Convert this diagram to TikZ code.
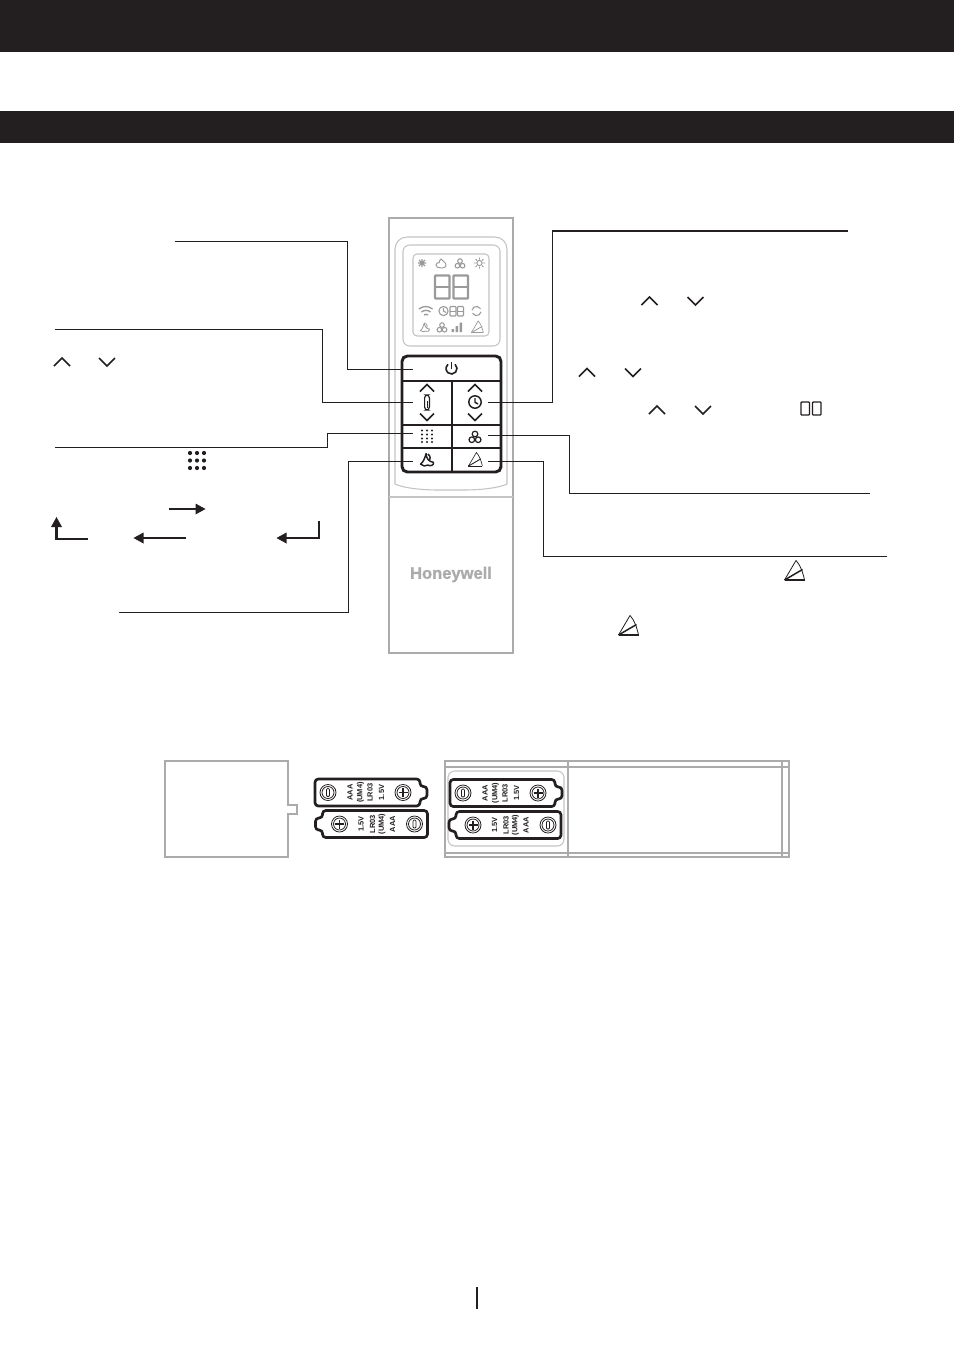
\documentclass[tikz,border=0pt]{standalone}
\usepackage{fontspec}
\setmainfont{Liberation Sans}
\newfontfamily\brandfont[BoldFeatures={FakeBold=1.2}]{Liberation Sans}
\definecolor{ink}{HTML}{231F20}
\definecolor{frame}{HTML}{ABABAB}
\definecolor{lcd}{HTML}{9A9A9A}
\definecolor{pale}{HTML}{C4C4C4}
\tikzset{
 leader/.style={draw=ink,line width=.75pt},
 shell/.style={draw=frame,line width=1.9pt},
 thin frame/.style={draw=frame,line width=.8pt},
 chevron/.style={draw=ink,line width=1.2pt},
 keyline/.style={draw=ink,line width=2.2pt},
 flowarrow/.style={draw=ink,line width=1.9pt},
 batlabel/.style={rotate=90,font=\bfseries\fontsize{5.6pt}{5.6pt}\selectfont,text=ink,inner sep=0pt},
}
\newcommand{\upchev}[4][chevron]{\draw[#1] (#2-#4,#3+#4/2) -- (#2,#3-#4/2) -- (#2+#4,#3+#4/2);}
\newcommand{\dnchev}[4][chevron]{\draw[#1] (#2-#4,#3-#4/2) -- (#2,#3+#4/2) -- (#2+#4,#3-#4/2);}
\newcommand{\fanicon}[5]{\begin{scope}[shift={(#1,#2)},scale=#3,draw=#4,line width=#5]
 \draw (0,-3.4) circle (3.2); \draw (-3.6,3.1) circle (3.2); \draw (3.6,3.1) circle (3.2);
\end{scope}}
\newcommand{\sailicon}[5]{\begin{scope}[shift={(#1,#2)},scale=#3,draw=#4,line width=#5,line join=round]
 \draw (-1,-7) .. controls (-1,-2) and (2,2) .. (7,2.5) .. controls (8,6) and (3,7) .. (1,5.5) .. controls (-1,7) and (-5,7) .. (-7,4.5) .. controls (-4,2.5) and (-2,-3) .. (-1,-7) -- cycle;
 \draw (1,-6.5) .. controls (4,-4) and (4,-1) .. (2.5,1);
\end{scope}}
\newcommand{\swingicon}[6]{\begin{scope}[shift={(#1,#2)},scale=#3,line join=miter]
 \draw[draw=#4,line width=#5] (-9.5,9.5) -- (2,-10) .. controls (6,-6) and (9,2) .. (10.5,9.5);
 \draw[draw=#4,line width=#6] (-9.5,9.5) -- (10.5,9.5);
 \draw[draw=#4,line width=#6] (-9.5,9.5) -- (8.5,-1);
\end{scope}}
\newcommand{\segdigit}[6]{%
 \draw[draw=#5,line width=#6,rounded corners=.6] (#1,#2) rectangle (#3,#4);
 \draw[draw=#5,line width=#6] (#1,{(#2+#4)/2}) -- (#3,{(#2+#4)/2});}
\newcommand{\battery}[3]{%
\begin{scope}[shift={(#1,#2)},rotate=#3]
 \draw[draw=ink,line width=2pt,line join=round,fill=white,rounded corners=2.5]
  (-56,-13.5) -- (49,-13.5) -- (49,-6) -- (56,-6) -- (56,6) -- (49,6) -- (49,13.5) -- (-56,13.5) -- cycle;
 \draw[ink,line width=.6pt] (-43,0) circle (8) (-43,0) circle (6);
 \draw[ink,line width=.6pt,rounded corners=.8] (-44.5,-4) rectangle (-41.5,4);
 \draw[ink,line width=.6pt] (32,0) circle (8) (32,0) circle (6);
 \draw[ink,line width=1.2pt] (27.5,0) -- (36.5,0) (32,-4.5) -- (32,4.5);
 \node[batlabel] at (-21,0) {AAA};
 \node[batlabel] at (-10.5,0) {(UM4)};
 \node[batlabel] at (-1,0) {LR03};
 \node[batlabel] at (10.5,0) {1.5V};
\end{scope}}
\begin{document}
\begin{tikzpicture}[x=.75pt,y=-.75pt]
\useasboundingbox (0,0) rectangle (954,1354);
\fill[white] (0,0) rectangle (954,1354);
% header bars
\fill[ink] (0,0) rectangle (954,52);
\fill[ink] (0,111) rectangle (954,143);
\draw[ink,line width=1pt] (477,1287) -- (477,1309);
% remote body
\draw[shell] (389,218) rectangle (513,653);
\draw[thin frame,draw=pale] (389,497) -- (513,497);
\draw[thin frame,draw=pale,rounded corners=9] (395,237) -- (507,237) -- (507,472) .. controls (507,484) and (496,490) .. (451,490) .. controls (406,490) and (395,484) .. (395,472) -- cycle;
\draw[thin frame,draw=pale,rounded corners=5] (403,245) rectangle (500,346);
\draw[thin frame,draw=pale,rounded corners=3] (413,254) rectangle (489,336);
% LCD
\begin{scope}
 \draw[lcd,line width=1pt] (418,263) -- (426,263) (422,259) -- (422,267) (419,260) -- (425,266) (419,266) -- (425,260);
 \draw[lcd,line width=.7pt] (441,259) .. controls (442,261) and (446,262) .. (446,265) .. controls (446,268) and (442,268) .. (441,268) .. controls (438,268) and (436,267) .. (436,265) .. controls (436,263) and (438,262) .. (439,263) .. controls (439,261) and (440,260) .. (441,259) -- cycle;
 \fanicon{460}{263.5}{.72}{lcd}{.8pt}
 \draw[lcd,line width=.7pt] (479.5,263) circle (2.6);
 \draw[lcd,line width=.7pt] (479.5,257.5) -- (479.5,259.5) (479.5,266.5) -- (479.5,268.5) (474,263) -- (476,263) (483,263) -- (485,263) (475.6,259.1) -- (477,260.5) (482,265.5) -- (483.4,266.9) (475.6,266.9) -- (477,265.5) (482,260.5) -- (483.4,259.1);
 \segdigit{435}{275.5}{449.5}{298.5}{lcd}{1.7pt}
 \segdigit{453.5}{275.5}{468}{298.5}{lcd}{1.7pt}
 \draw[lcd,line width=1pt] (419,309) arc[start angle=230,end angle=310,radius=10.5];
 \draw[lcd,line width=1pt] (421.5,312) arc[start angle=230,end angle=310,radius=7];
 \draw[lcd,line width=1pt] (424,315) arc[start angle=230,end angle=310,radius=3.2];
 \draw[lcd,line width=.8pt] (443.5,311) circle (4.6) (443.5,308) -- (443.5,311) -- (446,312.5);
 \segdigit{450}{306.5}{456}{316}{lcd}{.8pt}
 \segdigit{457.5}{306.5}{463.5}{316}{lcd}{.8pt}
 \draw[lcd,line width=.8pt] (476.5,311) ++(190:4.6) arc[start angle=190,end angle=330,radius=4.6];
 \draw[lcd,line width=.8pt] (476.5,311) ++(10:4.6) arc[start angle=10,end angle=150,radius=4.6];
 \sailicon{425}{327.5}{.65}{lcd}{.6pt}
 \fanicon{442}{327.5}{.72}{lcd}{.8pt}
 \fill[lcd] (451.5,329) rectangle (454,332) (455.5,326) rectangle (458,332) (459.5,322.5) rectangle (462,332);
 \swingicon{477}{327}{.6}{lcd}{.5pt}{.6pt}
\end{scope}
% keypad
\draw[keyline,rounded corners=4] (402,356) rectangle (501,472);
\draw[keyline] (402,381) -- (501,381) (452,381) -- (452,472) (402,425) -- (501,425) (402,448) -- (501,448);
% keypad icons
\draw[ink,line width=1.2pt] (451.5,368.5) ++(-50:5.5) arc[start angle=-50,end angle=230,radius=5.5];
\draw[ink,line width=1.2pt] (451.5,362) -- (451.5,369);
\upchev{427}{388}{7} \dnchev{427}{417}{7}
\upchev{475}{388}{7} \dnchev{475}{417}{7}
\draw[ink,line width=.9pt,rounded corners=2.2] (424.6,395) rectangle (429.4,410);
\draw[ink,line width=.7pt] (427,401) -- (427,408);
\draw[ink,line width=1.1pt] (475,402) circle (6.2) (475,398) -- (475,402.3) -- (478,404);
\foreach \i in {422,427,432} \foreach \j in {430.5,434.5,438.5,442} \fill[ink] (\i,\j) circle (1.15);
\fanicon{475}{437}{.88}{ink}{.9pt}
\sailicon{427}{460}{.92}{ink}{1.1pt}
\swingicon{475}{459.5}{.7}{ink}{.45pt}{.65pt}
% named connector ends
\coordinate (powerL) at (175,241);   \coordinate (powerK) at (413,369);
\coordinate (tempL)  at (55,329);    \coordinate (tempK)  at (413,402);
\coordinate (modeL)  at (55,447);    \coordinate (modeK)  at (413,433);
\coordinate (sleepL) at (119,612);   \coordinate (sleepK) at (413,461);
\coordinate (timerR) at (848,231);   \coordinate (timerK) at (488,402);
\coordinate (fanR)   at (870,493);   \coordinate (fanK)   at (488,435);
\coordinate (swingR) at (887,556);   \coordinate (swingK) at (488,461);
\draw[leader] (powerL) -- (347,241) -- (347,369) -- (powerK);
\draw[leader] (tempL) -- (322,329) -- (322,402) -- (tempK);
\draw[leader] (modeL) -- (327,447) -- (327,433) -- (modeK);
\draw[leader] (sleepL) -- (348,612) -- (348,461) -- (sleepK);
\draw[leader] (timerK) -- (552,402) -- (552,231) -- (timerR);
\draw[leader,line width=1.1pt] (552,231) -- (timerR);
\draw[leader] (fanK) -- (569,435) -- (569,493) -- (fanR);
\draw[leader] (swingK) -- (543,461) -- (543,556) -- (swingR);
% Honeywell
\node[font=\brandfont\bfseries\fontsize{12.4pt}{13pt}\selectfont,text=frame,inner sep=0pt] (brand) at (451,574.5) {Honeywell};
% inline glyphs
\upchev{62}{362}{8} \dnchev{107}{362}{8}
\upchev{649.5}{301}{8} \dnchev{695.5}{301}{8}
\upchev{587}{372.5}{8} \dnchev{633}{372.5}{8}
\upchev{657}{410}{8} \dnchev{703}{410}{8}
\draw[ink,line width=1pt,rounded corners=.6] (801,402) rectangle (809.5,415);
\draw[ink,line width=1pt,rounded corners=.6] (812.5,402) rectangle (821,415);
\foreach \i in {190,197,204} \foreach \j in {453,460.5,468} \fill[ink] (\i,\j) circle (2.1);
\swingicon{794}{570.5}{1}{ink}{.6pt}{1.1pt}
\swingicon{628}{625.5}{1}{ink}{.6pt}{1.1pt}
% flow arrows
\newcommand{\flowtip}[3]{\fill[ink,shift={(#1,#2)},rotate=#3] (0,0) -- (-10,-5.5) -- (-10,5.5) -- cycle;}
\draw[flowarrow] (169,509) -- (198,509); \flowtip{205.5}{509}{0}
\draw[flowarrow] (185.5,538) -- (141,538); \flowtip{133.5}{538}{180}
\draw[flowarrow] (88,539) -- (56.5,539) -- (56.5,525); \flowtip{56.5}{517}{90}
\draw[flowarrow] (319,521) -- (319,538) -- (284,538); \flowtip{276.5}{538}{180}
% battery cover and compartment
\draw[draw=frame,line width=1.5pt] (288,761) -- (165,761) -- (165,857) -- (288,857) -- (288,814) -- (297,814) -- (297,805) -- (288,805) -- cycle;
\draw[draw=frame,line width=1.5pt] (445,761) rectangle (789,857);
\draw[thin frame] (445,767) -- (789,767) (445,853) -- (789,853) (568,761) -- (568,857) (782,761) -- (782,857);
\draw[thin frame,draw=pale,rounded corners=5,fill=white] (448,771) rectangle (564,846);
\battery{371}{792.5}{0}
\battery{371.5}{824}{180}
\battery{506}{793}{0}
\battery{505}{825}{180}
\end{tikzpicture}
\end{document}
